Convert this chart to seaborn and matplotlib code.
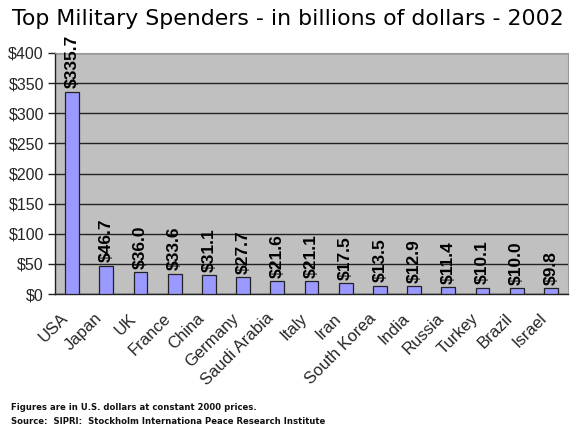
import matplotlib
matplotlib.use("Agg")
import matplotlib.pyplot as plt
import matplotlib.transforms as mtransforms
import seaborn as sns
import pandas as pd
import numpy as np
from matplotlib.ticker import FixedLocator

countries = ["USA", "Japan", "UK", "France", "China", "Germany", "Saudi Arabia",
             "Italy", "Iran", "South Korea", "India", "Russia", "Turkey", "Brazil", "Israel"]
spending = [335.7, 46.7, 36.0, 33.6, 31.1, 27.7, 21.6, 21.1, 17.5, 13.5, 12.9, 11.4, 10.1, 10.0, 9.8]
y_ticks = [0, 50, 100, 150, 200, 250, 300, 350, 400]

title = "Top Military Spenders - in billions of dollars - 2002"
note1 = "Figures are in U.S. dollars at constant 2000 prices."
note2 = "Source:  SIPRI:  Stockholm Internationa Peace Research Institute"

df = pd.DataFrame({"country": countries, "spending": spending})

sns.set_style("white")
plt.rcParams["font.family"] = ["Liberation Sans", "DejaVu Sans"]

fig = plt.figure(figsize=(5.76, 4.38), dpi=100)
ax = fig.add_axes([55/576, 1-294/438, (568-55)/576, (294-53)/438])
ax.set_facecolor("#C0C0C0")

sns.barplot(data=df, x="country", y="spending", color="#9999FF", saturation=1,
            width=0.4, edgecolor="#222222", linewidth=0.9, ax=ax, zorder=3)

ax.set_ylim(0, 400)
ax.set_xlim(-0.5, len(countries) - 0.5)
ax.yaxis.set_major_locator(FixedLocator(y_ticks))
ax.set_yticklabels([f"${v}" for v in y_ticks], fontsize=11.5)
ax.grid(axis="y", color="#222222", linewidth=1.0, zorder=1)
ax.set_axisbelow(True)

ax.set_xticks(range(len(countries)))
ax.set_xticklabels(countries, rotation=45, ha="right", rotation_mode="anchor", fontsize=12)
ax.tick_params(axis="x", which="major", length=0, pad=12)
shift = mtransforms.ScaledTranslation(-12/100, 0, fig.dpi_scale_trans)
for lbl in ax.get_xticklabels():
    lbl.set_transform(lbl.get_transform() + shift)
ax.xaxis.set_minor_locator(FixedLocator(np.arange(-0.5, len(countries), 1.0)))
ax.tick_params(axis="x", which="minor", length=5, direction="out", color="#222222", width=1)
ax.tick_params(axis="y", which="major", length=5, direction="out", color="#222222", width=1, pad=3, left=True)
ax.set_xlabel("")
ax.set_ylabel("")

for side in ["left", "bottom"]:
    ax.spines[side].set_color("#222222")
    ax.spines[side].set_linewidth(1.0)
for side in ["top", "right"]:
    ax.spines[side].set_color("#9a9a9a")
    ax.spines[side].set_linewidth(0.8)

for i, v in enumerate(spending):
    ax.annotate(f"${v:.1f}", xy=(i, v), xytext=(0, 2.5), textcoords="offset points",
                rotation=90, ha="center", va="bottom", fontsize=12.5, fontweight="bold",
                color="black", zorder=4)

fig.text(288/576, 1-19/438, title, ha="center", va="center", fontsize=15.8,
         family=["DejaVu Sans"], color="black")
fig.text(11/576, 1-408/438, note1, ha="left", va="center", fontsize=6.1,
         family=["DejaVu Sans"], fontweight="bold", color="#111111")
fig.text(11/576, 1-421/438, note2, ha="left", va="center", fontsize=6.1,
         family=["DejaVu Sans"], fontweight="bold", color="#111111")

fig.savefig("out.png", dpi=100)
